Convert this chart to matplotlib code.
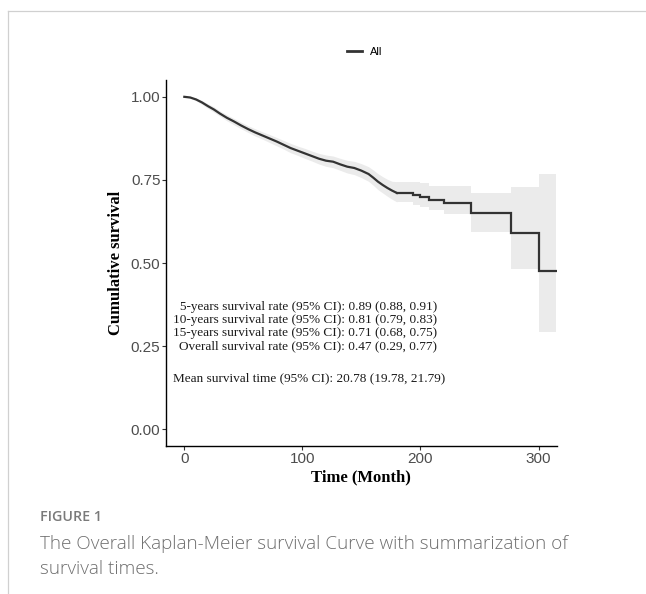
import matplotlib

matplotlib.use("Agg")
import matplotlib.pyplot as plt  # noqa: E402
from matplotlib.lines import Line2D  # noqa: E402

# Kaplan-Meier estimate (months, survival, 95% CI)
months = [0, 5, 10, 15, 20, 25, 30, 36, 42, 48, 54, 60, 66, 72, 78, 84, 90, 96, 102, 108,
          114, 120, 126, 132, 138, 144, 150, 156, 160, 164, 168, 172, 176, 180, 186, 194,
          200, 207, 220, 243, 277, 300, 315]
survival = [1.000, 0.998, 0.992, 0.983, 0.972, 0.962, 0.950, 0.937, 0.926, 0.914, 0.903,
            0.893, 0.884, 0.875, 0.866, 0.856, 0.846, 0.838, 0.830, 0.822, 0.814, 0.808,
            0.805, 0.797, 0.790, 0.786, 0.778, 0.768, 0.757, 0.745, 0.735, 0.726, 0.718,
            0.711, 0.711, 0.704, 0.699, 0.691, 0.681, 0.651, 0.592, 0.475, 0.475]
ci_upper = [1.000, 1.000, 0.996, 0.989, 0.979, 0.970, 0.958, 0.946, 0.935, 0.924, 0.913,
            0.904, 0.895, 0.887, 0.878, 0.869, 0.860, 0.852, 0.845, 0.837, 0.830, 0.825,
            0.822, 0.815, 0.809, 0.806, 0.799, 0.790, 0.780, 0.769, 0.760, 0.752, 0.746,
            0.745, 0.745, 0.744, 0.742, 0.731, 0.731, 0.712, 0.729, 0.768, 0.768]
ci_lower = [1.000, 0.996, 0.988, 0.977, 0.965, 0.954, 0.942, 0.928, 0.916, 0.904, 0.893,
            0.882, 0.873, 0.863, 0.853, 0.843, 0.832, 0.824, 0.815, 0.807, 0.798, 0.791,
            0.787, 0.779, 0.771, 0.766, 0.757, 0.746, 0.734, 0.721, 0.711, 0.701, 0.692,
            0.684, 0.683, 0.674, 0.668, 0.660, 0.648, 0.594, 0.482, 0.294, 0.294]

rate_lines = [
    "5-years survival rate (95% CI): 0.89 (0.88, 0.91)",
    "10-years survival rate (95% CI): 0.81 (0.79, 0.83)",
    "15-years survival rate (95% CI): 0.71 (0.68, 0.75)",
    "Overall survival rate (95% CI): 0.47 (0.29, 0.77)",
]
mean_line = "Mean survival time (95% CI): 20.78 (19.78, 21.79)"
x_ticks = [0, 100, 200, 300]
y_ticks = [0.00, 0.25, 0.50, 0.75, 1.00]

SERIF = ["Liberation Serif", "DejaVu Serif"]
SANS = ["Liberation Sans", "DejaVu Sans"]
CAPTION = ["Open Sans", "DejaVu Sans"]

# the early part has many tiny steps that read as a smooth curve
k = months.index(180)

fig = plt.figure(figsize=(6.46, 5.94), dpi=100)
ax = fig.add_axes([0.257, 0.249, 0.605, 0.616])

band = dict(color="#ebebeb", linewidth=0)
ax.fill_between(months[:k + 1], ci_lower[:k + 1], ci_upper[:k + 1], **band)
ax.fill_between(months[k:], ci_lower[k:], ci_upper[k:], step="post", **band)
line_style = dict(color="#333333", linewidth=1.6, solid_joinstyle="miter")
(km_line,) = ax.plot(months[:k + 1], survival[:k + 1], label="All", **line_style)
ax.step(months[k:], survival[k:], where="post", **line_style)

ax.set_xlim(-15.5, 315.5)
ax.set_ylim(-0.05, 1.05)
ax.set_xticks(x_ticks)
ax.set_yticks(y_ticks)
ax.set_yticklabels([f"{v:.2f}" for v in y_ticks])
ax.tick_params(labelsize=11, labelcolor="#4d4d4d", color="#333333", length=3, width=0.8, pad=1)
for lab in ax.get_xticklabels() + ax.get_yticklabels():
    lab.set_family(SANS)
for side in ["top", "right"]:
    ax.spines[side].set_visible(False)
for side in ["left", "bottom"]:
    ax.spines[side].set_linewidth(1.0)
    ax.spines[side].set_color("black")

ax.set_xlabel("Time (Month)", family=SERIF, fontweight="bold", fontsize=12, labelpad=3)
ax.set_ylabel("Cumulative survival", family=SERIF, fontweight="bold", fontsize=12, labelpad=5)

ax.text(214, 0.309, "\n".join(rate_lines), ha="right", va="center", multialignment="right",
        family=SERIF, fontsize=9.5, color="#1a1a1a", linespacing=1.1)
ax.text(106, 0.154, mean_line, ha="center", va="center", family=SERIF, fontsize=9.5, color="#1a1a1a")

legend = fig.legend(handles=[km_line], loc="center", bbox_to_anchor=(0.565, 0.912), frameon=False,
                    handlelength=1.3, prop={"family": SANS, "size": 8})
legend.get_lines()[0].set_linewidth(2.0)

# page frame around the figure panel
fig.add_artist(Line2D([8 / 646, 1.0], [1 - 11 / 594, 1 - 11 / 594], transform=fig.transFigure,
                      color="#d0d0d0", linewidth=0.9))
fig.add_artist(Line2D([8 / 646, 8 / 646], [0.0, 1 - 11 / 594], transform=fig.transFigure,
                      color="#d0d0d0", linewidth=0.9))

fig.text(40 / 646, 1 - 517 / 594, "FIGURE 1", family=CAPTION, fontsize=10.3,
         fontweight="semibold", color="#7a7a7a", va="center")
fig.text(40 / 646, 1 - 544 / 594, "The Overall Kaplan-Meier survival Curve with summarization of",
         family=CAPTION, fontsize=13.6, fontweight="light", color="#6e6e6e", va="center")
fig.text(40 / 646, 1 - 569 / 594, "survival times.", family=CAPTION, fontsize=13.6,
         fontweight="light", color="#6e6e6e", va="center")

fig.savefig("out.png", dpi=100)
